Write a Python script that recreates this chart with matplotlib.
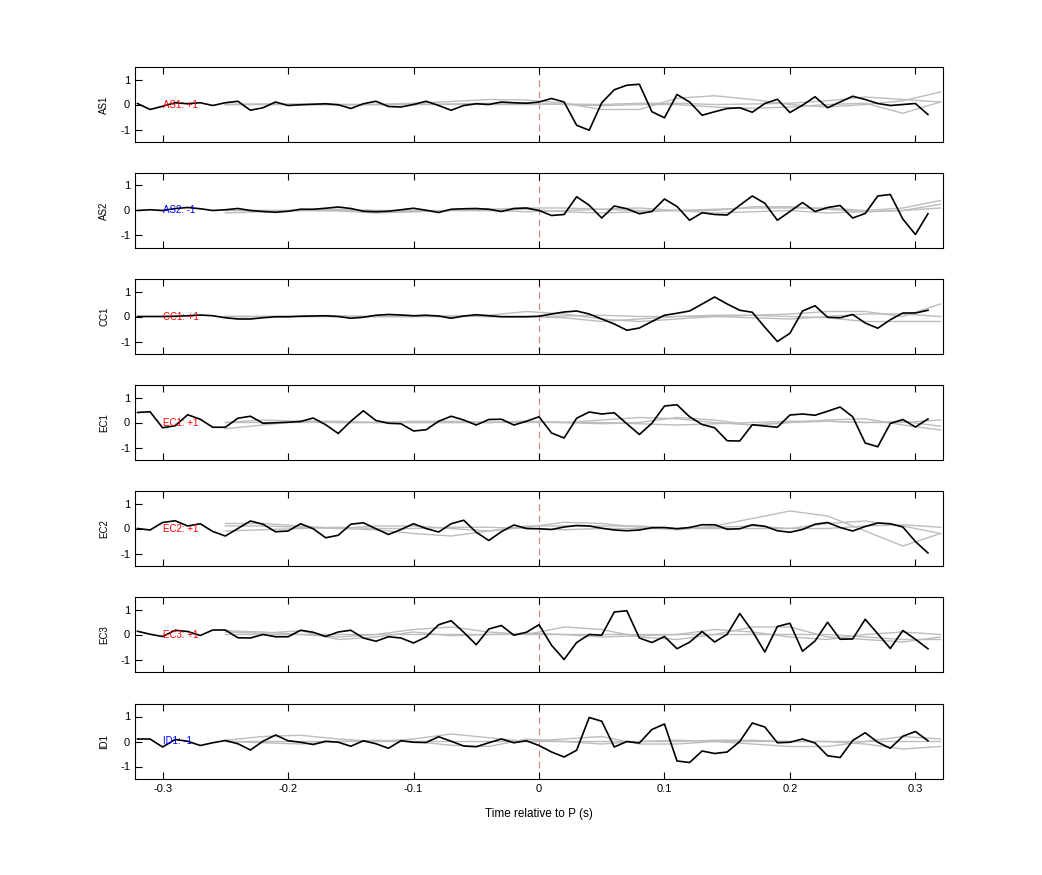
import numpy as np
import matplotlib
matplotlib.use("Agg")
import matplotlib.pyplot as plt

plt.rcParams['font.family'] = ['Liberation Sans', 'DejaVu Sans']
plt.rcParams['axes.unicode_minus'] = False

stations = ["AS1", "AS2", "CC1", "EC1", "EC2", "EC3", "ID1"]
polarity = ["+1", "-1", "+1", "+1", "+1", "+1", "-1"]
xtick_vals = [-0.3, -0.2, -0.1, 0, 0.1, 0.2, 0.3]
xtick_labels = ["-0.3", "-0.2", "-0.1", "0", "0.1", "0.2", "0.3"]
t = np.round(np.arange(-0.32, 0.3101, 0.01), 2)

AS1 = [0.04,-0.2,-0.07,0.07,0.03,0.07,-0.04,0.07,0.13,-0.23,-0.13,0.1,-0.04,-0.01,0.01,0.03,-0.01,-0.16,0.03,0.13,-0.08,-0.1,0.0,0.13,-0.04,-0.23,-0.04,0.03,0.0,0.1,0.07,0.05,
       0.1,0.24,0.1,-0.83,-1.03,0.07,0.59,0.77,0.81,-0.29,-0.53,0.4,0.1,-0.43,-0.29,-0.16,-0.13,-0.31,0.04,0.21,-0.32,-0.03,0.31,-0.13,0.1,0.33,0.2,0.04,-0.04,0.0,0.04,-0.4]
AS2 = [0.0,0.03,0.0,0.08,0.12,0.07,0.0,0.03,0.08,0.0,-0.04,-0.07,-0.03,0.05,0.05,0.09,0.14,0.08,-0.03,-0.05,-0.03,0.03,0.09,0.01,-0.08,0.05,0.07,0.08,0.05,-0.04,0.08,0.1,
       0.0,-0.2,-0.16,0.55,0.21,-0.3,0.18,0.07,-0.13,-0.04,0.46,0.16,-0.39,-0.09,-0.16,-0.18,0.21,0.58,0.29,-0.39,-0.04,0.32,-0.04,0.12,0.2,-0.3,-0.12,0.58,0.64,-0.34,-0.96,-0.13]
CC1 = [0.0,0.0,0.0,0.01,0.03,0.06,0.03,-0.05,-0.1,-0.1,-0.05,-0.01,-0.01,0.01,0.02,0.03,0.0,-0.07,-0.03,0.05,0.08,0.06,0.03,0.05,0.02,-0.07,0.02,0.07,0.03,-0.01,-0.01,-0.01,
       0.01,0.1,0.18,0.22,0.1,-0.1,-0.3,-0.55,-0.46,-0.2,0.05,0.13,0.22,0.5,0.78,0.5,0.25,0.17,-0.43,-1.0,-0.67,0.22,0.43,-0.03,-0.05,0.08,-0.26,-0.47,-0.13,0.14,0.14,0.25]
EC1 = [0.4,0.43,-0.21,-0.13,0.31,0.13,-0.19,-0.19,0.17,0.25,-0.03,-0.01,0.01,0.04,0.18,-0.09,-0.44,0.05,0.47,0.08,-0.03,-0.05,-0.34,-0.29,0.05,0.25,0.1,-0.1,0.12,0.13,-0.1,0.05,
       0.23,-0.42,-0.62,0.17,0.42,0.34,0.39,-0.05,-0.48,-0.03,0.66,0.71,0.23,-0.08,-0.21,-0.73,-0.74,-0.09,-0.14,-0.19,0.3,0.34,0.29,0.45,0.62,0.23,-0.82,-0.97,-0.04,0.12,-0.18,0.14]
EC2 = [0.0,-0.06,0.24,0.31,0.1,0.19,-0.12,-0.3,0.0,0.3,0.17,-0.13,-0.1,0.19,-0.01,-0.37,-0.27,0.17,0.23,-0.01,-0.24,-0.04,0.19,0.0,-0.14,0.19,0.33,-0.15,-0.48,-0.13,0.14,0.0,
       -0.01,-0.04,0.06,0.12,0.1,0.01,-0.06,-0.09,-0.06,0.03,0.04,-0.01,0.04,0.15,0.15,-0.03,-0.01,0.15,0.09,-0.09,-0.15,-0.04,0.17,0.24,0.04,-0.1,0.08,0.22,0.19,0.06,-0.52,-0.98]
EC3 = [0.13,0.01,-0.08,0.17,0.12,-0.04,0.18,0.18,-0.13,-0.14,0.0,-0.09,-0.09,0.17,0.09,-0.08,0.1,0.17,-0.14,-0.27,-0.09,-0.14,-0.34,-0.1,0.39,0.55,0.09,-0.41,0.22,0.36,-0.03,0.09,
       0.39,-0.43,-1.0,-0.32,0.0,-0.03,0.9,0.95,-0.14,-0.32,-0.08,-0.57,-0.31,0.12,-0.3,0.01,0.84,0.14,-0.7,0.32,0.45,-0.67,-0.26,0.49,-0.19,-0.18,0.61,0.03,-0.56,0.16,-0.19,-0.57]
ID1 = [0.1,0.1,-0.22,0.08,0.01,-0.16,-0.05,0.04,-0.09,-0.34,0.01,0.26,0.03,-0.03,-0.12,0.01,-0.03,-0.19,0.03,-0.09,-0.27,0.03,-0.03,-0.04,0.19,0.01,-0.18,-0.21,-0.05,0.1,-0.05,0.03,
       -0.16,-0.42,-0.62,-0.35,0.96,0.81,-0.22,0.0,-0.06,0.48,0.7,-0.78,-0.84,-0.38,-0.48,-0.42,0.0,0.74,0.58,-0.05,-0.03,0.1,-0.06,-0.57,-0.64,0.04,0.35,-0.03,-0.27,0.21,0.4,0.03]
black = [AS1, AS2, CC1, EC1, EC2, EC3, ID1]

tg = np.round(np.arange(-0.25, 0.3201, 0.03), 2)
gray = {
 "AS1": [[0,0,0,0,0,0.05,0.12,0.2,0.18,0.05,-0.2,-0.2,0.25,0.35,0.2,0.0,-0.1,0.0,0.15,0.5],
         [0,0,0,-0.02,0,0,0.02,0.05,0.05,0,-0.05,0,0,-0.1,-0.15,-0.1,0,0.05,-0.35,0.1],
         [0,0.02,0.02,0,0,0,0,0,0,0.02,0,0.05,0.05,0,0.02,0.05,0.15,0.3,0.2,0.1]],
 "AS2": [[-0.1,-0.05,0,0.05,0,-0.05,0,0.05,0.1,0.1,0.05,0,0,0.05,0.1,0.1,0.1,0,0.1,0.4],
         [0,0,0,0,0,0,0,0,0.05,-0.05,-0.1,-0.05,0,0,0.15,0.15,0.05,-0.05,0,0.25],
         [0,0,0,-0.02,-0.1,-0.05,0,0,-0.05,0,0.05,0.1,0,-0.1,-0.05,0,-0.1,-0.05,0,0.1]],
 "CC1": [[0,0,0,0,0,0,0,0.05,0.2,0.1,-0.1,-0.2,-0.1,0,0.05,0.1,0.2,0.2,0.0,0.5],
         [0,0,0,0.02,0,0,0.02,0,0,-0.05,-0.2,-0.1,0,0.05,0.05,0,-0.05,-0.2,-0.2,-0.2],
         [0,0,0,0,0,0,0,0,0,0.02,0.05,0,0,0,-0.05,-0.1,0,0.1,0.1,0.0]],
 "EC1": [[-0.25,-0.1,0.05,0.05,0,0,0,0,0.05,0,-0.05,0,0.2,0.1,-0.1,0.0,0.1,0.15,-0.1,-0.3],
         [0,0.1,0.05,0,0,0.05,0.05,0,0.05,0,0.1,0.2,0.15,0.0,-0.1,0,0.05,0,0,0.1],
         [0,0,0,0,0,0,0,0,0,0,0,-0.05,-0.1,-0.05,0,0.05,0.05,0,0.05,-0.15]],
 "EC2": [[0.2,0.2,0.1,0,-0.05,-0.2,-0.3,-0.1,0.05,0.25,0.2,0.05,-0.05,0.1,0.4,0.7,0.5,-0.1,-0.7,-0.2],
         [0.1,0.1,0.05,0,0.1,0.1,0,-0.1,0.1,0.1,0.1,0.1,0,0.05,0.1,0,0.2,0.3,0.1,-0.2],
         [-0.1,-0.05,0,0.05,0,0,0.05,0.05,0,-0.05,0,0,0,0,0,0,0,0.1,0.15,0.05]],
 "EC3": [[0.15,0.1,0,-0.1,0,0.2,0.3,0.1,0,0.3,0.2,-0.1,-0.2,0,0.3,0.3,-0.1,-0.2,-0.3,-0.1],
         [0.1,0.05,0.15,-0.2,-0.1,0.1,-0.05,0,0.05,0,-0.1,-0.05,0,0.2,0.1,-0.1,-0.2,0,0.1,0],
         [0,0,0,0,0,0,0,0,0,0,0,0,0,0,0,0,0,-0.1,-0.2,-0.2]],
 "ID1": [[0.05,0.2,0.25,0.1,0,0.1,0.3,0.15,0,0.1,0.2,-0.1,-0.1,0,-0.1,-0.2,-0.2,0,0.2,0.1],
         [0,-0.05,-0.1,0,0.05,0,-0.15,-0.2,0.1,0,-0.1,0,0,0.05,0.05,0,0,-0.1,-0.3,-0.2],
         [0,0,0,0,0,0,0,0,0,0,0,0,0.05,0,0,0,0,0,0,0]],
}

fig = plt.figure(figsize=(10.42, 8.75), dpi=100)
left, width = 135/1042, (943-135)/1042
tops = [67, 173, 279, 385, 491, 597, 704]
h = 75
for i, st in enumerate(stations):
    ax = fig.add_axes([left, 1 - (tops[i] + h)/875, width, h/875])
    for g in gray[st]:
        ax.plot(tg, g, color='#bdbdbd', lw=1.0, zorder=1)
    ax.plot(t, black[i], color='black', lw=1.2, zorder=3)
    ax.axvline(0, color='#d98080', lw=0.8, ls=(0, (6, 4)), zorder=0)
    ax.set_xlim(-0.322, 0.322)
    ax.set_ylim(-1.5, 1.5)
    ax.set_yticks([-1, 0, 1])
    ax.set_yticklabels(["-1", "0", "1"])
    ax.set_xticks(xtick_vals)
    ax.tick_params(direction='in', top=True, right=False, labelsize=8, length=5, width=0.8)
    ax.set_ylabel(st, fontsize=7, labelpad=8)
    if i < 6:
        ax.set_xticklabels([])
    else:
        ax.set_xticklabels(xtick_labels)
    col = 'red' if polarity[i] == '+1' else 'blue'
    ax.text(-0.3, 0, f"{st}: {polarity[i]}", color=col, fontsize=7, va='center', zorder=4)
    for s in ax.spines.values():
        s.set_linewidth(0.8)
ax.set_xlabel("Time relative to P (s)", fontsize=8.5, labelpad=10)
fig.savefig("out.png", dpi=100)
